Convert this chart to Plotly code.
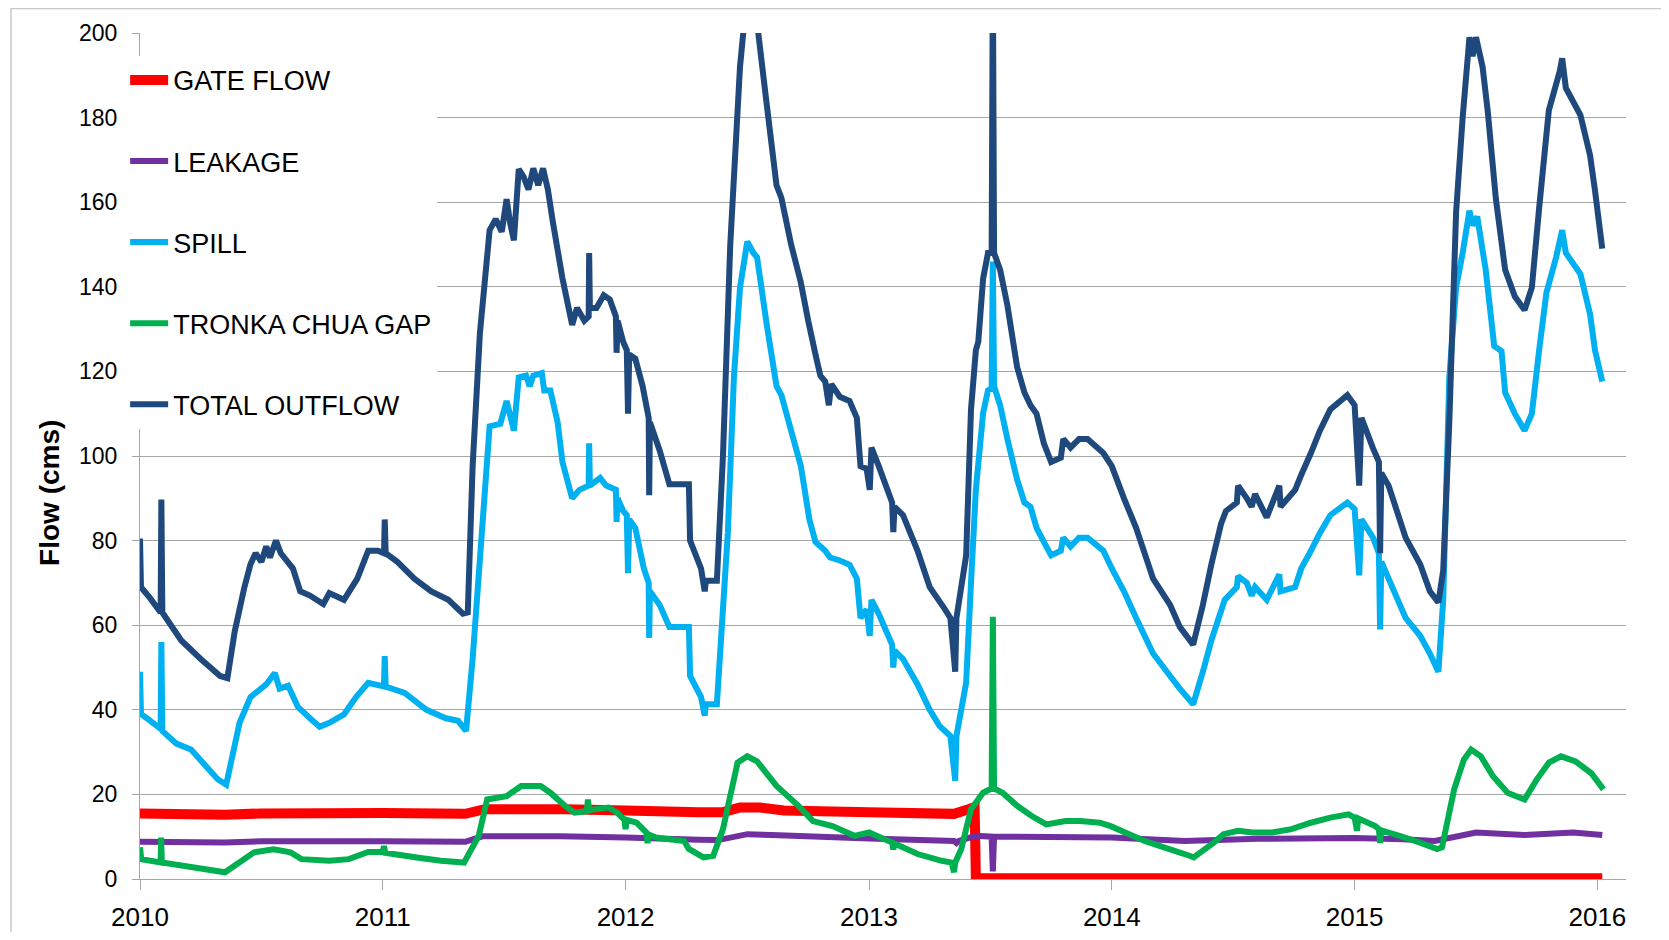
import datetime as dt
import plotly.graph_objects as go

# ---------------- data (decimal year, value in cms) ----------------
GATE_T = [2010.0, 2010.35, 2010.5, 2011.0, 2011.34, 2011.42, 2011.75, 2012.0, 2012.3, 2012.40,
          2012.47, 2012.55, 2012.65, 2013.0, 2013.35, 2013.41, 2013.435, 2013.44, 2016.02]
GATE_V = [15.5, 15.2, 15.5, 15.6, 15.4, 16.5, 16.5, 16.2, 15.8, 15.8,
          16.9, 16.9, 16.2, 15.8, 15.4, 16.5, 17.0, 0.2, 0.2]

LEAK_T = [2010.0, 2010.35, 2010.5, 2011.0, 2011.34, 2011.41, 2011.73, 2012.0, 2012.3, 2012.38,
          2012.5, 2012.6, 2013.0, 2013.35, 2013.36, 2013.37, 2013.44, 2013.505, 2013.51, 2013.515,
          2014.0, 2014.3, 2014.6, 2015.0, 2015.2, 2015.33, 2015.5, 2015.7, 2015.9, 2016.02]
LEAK_V = [8.8, 8.6, 8.9, 8.9, 8.8, 10.1, 10.1, 9.8, 9.3, 9.2,
          10.6, 10.4, 9.6, 9.0, 8.5, 9.0, 10.2, 10.0, 1.8, 10.0,
          9.8, 9.0, 9.5, 9.7, 9.4, 9.0, 11.0, 10.4, 11.0, 10.4]

SPILL_T = [2010.0, 2010.004, 2010.04, 2010.085, 2010.088, 2010.092, 2010.15, 2010.21, 2010.32, 2010.355,
           2010.41, 2010.455, 2010.52, 2010.555, 2010.575, 2010.61, 2010.65, 2010.70, 2010.74, 2010.78,
           2010.84, 2010.89, 2010.94, 2010.99, 2011.005, 2011.008, 2011.012, 2011.09, 2011.18, 2011.26,
           2011.31, 2011.343, 2011.37, 2011.405, 2011.44, 2011.484, 2011.51, 2011.54, 2011.56, 2011.59,
           2011.605, 2011.62, 2011.655, 2011.665, 2011.69, 2011.72, 2011.74, 2011.78, 2011.81, 2011.848,
           2011.85, 2011.853, 2011.895, 2011.92, 2011.96, 2011.963, 2011.967, 2011.99, 2012.005, 2012.01,
           2012.015, 2012.04, 2012.075, 2012.095, 2012.097, 2012.10, 2012.14, 2012.18, 2012.26, 2012.265,
           2012.31, 2012.325, 2012.33, 2012.375, 2012.42, 2012.445, 2012.47, 2012.50, 2012.525, 2012.54,
           2012.58, 2012.62, 2012.64, 2012.68, 2012.72, 2012.755, 2012.78, 2012.82, 2012.84, 2012.88,
           2012.92, 2012.95, 2012.965, 2012.99, 2013.003, 2013.01, 2013.04, 2013.095, 2013.10, 2013.105,
           2013.14, 2013.20, 2013.25, 2013.29, 2013.335, 2013.355, 2013.36, 2013.40, 2013.42, 2013.44,
           2013.47, 2013.49, 2013.505, 2013.51, 2013.515, 2013.54, 2013.57, 2013.61, 2013.64, 2013.665,
           2013.69, 2013.72, 2013.75, 2013.79, 2013.80, 2013.83, 2013.865, 2013.90, 2013.965, 2014.0,
           2014.05, 2014.10, 2014.17, 2014.24, 2014.28, 2014.335, 2014.375, 2014.41, 2014.465, 2014.515,
           2014.52, 2014.556, 2014.576, 2014.59, 2014.638, 2014.69, 2014.695, 2014.755, 2014.78, 2014.82,
           2014.857, 2014.90, 2014.97, 2015.0, 2015.019, 2015.028, 2015.076, 2015.10, 2015.105, 2015.11,
           2015.14, 2015.21, 2015.27, 2015.31, 2015.345, 2015.365, 2015.39, 2015.418, 2015.445, 2015.473,
           2015.486, 2015.505, 2015.54, 2015.575, 2015.605, 2015.62, 2015.66, 2015.70, 2015.73, 2015.76,
           2015.79, 2015.83, 2015.855, 2015.87, 2015.93, 2015.97, 2015.99, 2016.02]
SPILL_V = [49, 39, 37.5, 35.5, 56, 35, 32, 30.6, 23.6, 22.3,
           36.9, 43, 46, 48.7, 45, 45.7, 40.7, 38, 36, 36.9,
           38.9, 43, 46.4, 45.7, 45.5, 52.7, 45.5, 44, 40, 38,
           37.4, 35, 52, 79.5, 107, 107.6, 113, 106, 118.6, 119,
           116.5, 119, 119.6, 115.5, 115.5, 108, 98.6, 90, 92, 93,
           103, 93, 94.8, 93, 92, 84.4, 90, 87, 86, 72.3,
           85, 83, 73.4, 70, 57, 68, 64.8, 59.6, 59.6, 48,
           43, 38.6, 41.3, 41.3, 81.8, 118.6, 139.8, 150.7, 148, 147,
           131, 116.5, 114.4, 106, 97.6, 85, 79.7, 77.6, 76, 75.3,
           74.3, 71, 61.7, 63.7, 57.5, 66, 62.7, 55.4, 50, 54,
           52, 46, 40, 36.2, 33.8, 23.2, 33.8, 46.4, 70, 92,
           110.2, 115.5, 116, 146, 116.5, 112, 104, 94.4, 89, 88,
           83, 79.7, 76.5, 77.6, 80.7, 78.6, 80.7, 80.7, 77.6, 73.4,
           68, 61.7, 53.3, 48, 45, 41.3, 49, 56.4, 66, 69,
           71.6, 70, 67, 69, 66, 72, 68, 69, 73.4, 77.6,
           81.8, 86, 89, 87.5, 71.8, 85, 80.7, 77, 59, 75,
           71, 61.7, 57.5, 53.3, 49, 66, 118.6, 139.8, 148, 158,
           154.5, 156.6, 144, 126, 124.8, 115, 110, 106, 110, 125,
           138.6, 147, 153.4, 148, 143, 133.5, 125, 117.6]

TRONKA_T = [2010.0, 2010.005, 2010.085, 2010.087, 2010.09, 2010.35, 2010.47, 2010.55, 2010.62, 2010.665,
            2010.78, 2010.86, 2010.94, 2011.0, 2011.005, 2011.01, 2011.14, 2011.24, 2011.335, 2011.395,
            2011.43, 2011.51, 2011.53, 2011.57, 2011.65, 2011.69, 2011.75, 2011.79, 2011.84, 2011.845,
            2011.85, 2011.93, 2011.965, 2011.995, 2012.0, 2012.005, 2012.045, 2012.085, 2012.09, 2012.095,
            2012.125, 2012.24, 2012.26, 2012.32, 2012.36, 2012.40, 2012.46, 2012.50, 2012.54, 2012.62,
            2012.71, 2012.77, 2012.85, 2012.94, 2013.0, 2013.095, 2013.10, 2013.105, 2013.20, 2013.30,
            2013.34, 2013.35, 2013.355, 2013.38, 2013.42, 2013.47, 2013.505, 2013.51, 2013.515, 2013.55,
            2013.61, 2013.67, 2013.73, 2013.81, 2013.87, 2013.95, 2013.995, 2014.055, 2014.135, 2014.215,
            2014.32, 2014.337, 2014.42, 2014.46, 2014.52, 2014.58, 2014.66, 2014.74, 2014.82, 2014.90,
            2014.975, 2015.0, 2015.01, 2015.015, 2015.085, 2015.10, 2015.105, 2015.11, 2015.185, 2015.27,
            2015.34, 2015.36, 2015.41, 2015.45, 2015.48, 2015.52, 2015.57, 2015.63, 2015.70, 2015.75,
            2015.80, 2015.85, 2015.91, 2015.975, 2016.025]
TRONKA_V = [7.5, 4.7, 3.9, 9.8, 3.9, 1.6, 6.3, 7.0, 6.3, 4.7,
            4.3, 4.7, 6.4, 6.4, 7.8, 6.2, 5.1, 4.3, 3.9, 10.2,
            18.8, 19.6, 20.4, 22, 22, 20.4, 17.3, 15.7, 16, 18.8,
            16.3, 16.9, 15.7, 14, 11.8, 14, 13.3, 11, 8.5, 10.5,
            9.8, 9, 7.1, 5.1, 5.5, 11.8, 27.5, 29, 27.8, 22,
            17.3, 13.7, 12.5, 10.2, 11, 8.6, 7, 8.4, 5.9, 4.3,
            3.9, 1.6, 3.9, 7.1, 16.5, 20.4, 21.4, 62, 21.4, 20.4,
            17.3, 14.9, 12.9, 13.7, 13.7, 13.3, 12.5, 11, 9, 7.5,
            5.5, 5.1, 8.6, 10.6, 11.4, 11, 11, 11.8, 13.3, 14.5,
            15.3, 14.5, 11.4, 14.3, 12.5, 11.8, 8.5, 11.5, 10.2, 8.6,
            7.1, 7.5, 21.2, 28.2, 30.6, 29, 24.3, 20.4, 18.8, 23.5,
            27.5, 29, 27.8, 25, 21.2]

TOTAL_T = [2010.0, 2010.004, 2010.04, 2010.085, 2010.088, 2010.092, 2010.17, 2010.25, 2010.33, 2010.36,
           2010.39, 2010.43, 2010.455, 2010.476, 2010.50, 2010.52, 2010.535, 2010.56, 2010.58, 2010.63,
           2010.66, 2010.70, 2010.755, 2010.78, 2010.84, 2010.895, 2010.94, 2010.98, 2011.005, 2011.008,
           2011.012, 2011.06, 2011.13, 2011.20, 2011.27, 2011.33, 2011.35, 2011.37, 2011.40, 2011.44,
           2011.465, 2011.49, 2011.51, 2011.525, 2011.54, 2011.56, 2011.58, 2011.60, 2011.62, 2011.64,
           2011.66, 2011.68, 2011.70, 2011.74, 2011.78, 2011.80, 2011.83, 2011.848, 2011.85, 2011.853,
           2011.88, 2011.91, 2011.935, 2011.96, 2011.963, 2011.967, 2011.99, 2012.005, 2012.01, 2012.015,
           2012.04, 2012.07, 2012.095, 2012.097, 2012.10, 2012.14, 2012.18, 2012.26, 2012.265, 2012.31,
           2012.325, 2012.33, 2012.375, 2012.40, 2012.43, 2012.47, 2012.49, 2012.52, 2012.545, 2012.58,
           2012.62, 2012.64, 2012.68, 2012.72, 2012.75, 2012.78, 2012.80, 2012.82, 2012.835, 2012.845,
           2012.88, 2012.92, 2012.95, 2012.965, 2012.99, 2013.003, 2013.01, 2013.04, 2013.095, 2013.10,
           2013.105, 2013.14, 2013.20, 2013.25, 2013.31, 2013.335, 2013.355, 2013.36, 2013.40, 2013.42,
           2013.44, 2013.45, 2013.47, 2013.49, 2013.505, 2013.51, 2013.515, 2013.54, 2013.57, 2013.61,
           2013.64, 2013.665, 2013.69, 2013.72, 2013.75, 2013.79, 2013.80, 2013.83, 2013.865, 2013.90,
           2013.965, 2014.0, 2014.05, 2014.10, 2014.17, 2014.24, 2014.28, 2014.335, 2014.375, 2014.41,
           2014.45, 2014.47, 2014.515, 2014.52, 2014.556, 2014.576, 2014.59, 2014.638, 2014.69, 2014.695,
           2014.755, 2014.78, 2014.82, 2014.857, 2014.90, 2014.97, 2015.0, 2015.019, 2015.028, 2015.076,
           2015.10, 2015.105, 2015.11, 2015.14, 2015.21, 2015.27, 2015.31, 2015.345, 2015.365, 2015.39,
           2015.418, 2015.445, 2015.473, 2015.486, 2015.50, 2015.527, 2015.548, 2015.582, 2015.62, 2015.66,
           2015.70, 2015.73, 2015.76, 2015.80, 2015.845, 2015.855, 2015.87, 2015.93, 2015.97, 2015.99,
           2016.02]
TOTAL_V = [80.5, 69, 66.5, 63, 89.7, 63, 56.4, 52, 48, 47.5,
           58.5, 69, 74.4, 77, 75, 78.6, 76, 80, 77, 73.4,
           68, 67, 65, 67.6, 66, 71, 77.6, 77.6, 77, 85,
           77, 75, 71, 68, 66, 62.7, 63, 97.6, 129, 153.4,
           156, 153, 160.7, 155, 151, 167.8, 166, 163, 168, 164,
           168, 163, 155.5, 142, 131, 135, 132, 133, 148, 135,
           135, 138, 137, 133, 124.4, 132, 127, 125, 110, 124,
           123, 116.5, 109, 90.7, 108, 101.3, 93.3, 93.3, 80, 73.4,
           68, 70.5, 70.5, 100, 150, 192, 204, 206, 200, 183,
           164, 161, 150, 141, 132, 124, 119, 117.6, 112, 117,
           114, 113, 109, 97.6, 97, 92, 102, 97.6, 89, 82,
           88, 86, 77.6, 69, 64, 61.7, 49, 61.7, 76.5, 111,
           125, 127, 142, 148, 148, 215, 148, 144, 135.6, 121,
           115, 112, 110, 103, 98.6, 99.6, 104, 102, 104, 104,
           100.7, 97.6, 90, 83, 71, 64.8, 59.6, 55.4, 64.8, 74.4,
           84, 87, 89, 93, 90, 88, 91, 85.5, 93, 88,
           92, 95.5, 100.7, 106, 111, 114.4, 112, 93, 109, 101.8,
           98.6, 77, 96, 93, 80.7, 74.4, 68, 65.4, 73, 108,
           157.6, 180, 199, 194.5, 199, 192, 181.7, 160.7, 144, 137.7,
           134.5, 139.8, 158.6, 181.7, 191, 194, 187, 180.6, 171, 162.8,
           149]

SERIES = [
    ("GATE FLOW", GATE_T, GATE_V, "#FF0000", 10),
    ("LEAKAGE", LEAK_T, LEAK_V, "#7030A0", 6),
    ("SPILL", SPILL_T, SPILL_V, "#00B0F0", 6),
    ("TRONKA CHUA GAP", TRONKA_T, TRONKA_V, "#00B050", 6),
    ("TOTAL OUTFLOW", TOTAL_T, TOTAL_V, "#1F497D", 6),
]

YEAR_TICKS = ["2010", "2011", "2012", "2013", "2014", "2015", "2016"]


def to_date(y):
    year = int(y)
    start = dt.datetime(year, 1, 1)
    end = dt.datetime(year + 1, 1, 1)
    return (start + (end - start) * (y - year)).strftime("%Y-%m-%d %H:%M")


FONT = "Liberation Sans"

fig = go.Figure()
for name, ts, vs, color, width in SERIES:
    fig.add_trace(go.Scatter(
        x=[to_date(t) for t in ts], y=vs, mode="lines", name=name,
        legendgroup=name,
        line=dict(color=color, width=width, simplify=False),
    ))

GRID = "#A6A6A6"
fig.update_layout(
    width=1653, height=924,
    margin=dict(l=132, r=35, t=25, b=53, autoexpand=False),
    paper_bgcolor="white", plot_bgcolor="white",
    font=dict(family=FONT, color="black"),
    showlegend=True,
    legend=dict(
        x=-0.010, y=0.973, xanchor="left", yanchor="top",
        bgcolor="white", borderwidth=0,
        font=dict(family=FONT, size=27, color="black"),
        traceorder="grouped", tracegroupgap=43, itemwidth=38,
    ),
    xaxis=dict(
        type="date", automargin=False,
        range=["2010-01-01", "2016-02-13"],
        tickmode="array",
        tickvals=[y + "-01-01" for y in YEAR_TICKS],
        ticktext=YEAR_TICKS,
        showgrid=False, zeroline=False,
        showline=True, linecolor=GRID, linewidth=1,
        ticks="outside", ticklen=10, tickcolor=GRID,
        tickfont=dict(family=FONT, size=26, color="black"),
        ticklabelstandoff=5,
    ),
    yaxis=dict(
        automargin=False,
        range=[0, 200], dtick=20, tick0=0,
        showgrid=True, gridcolor=GRID, gridwidth=1,
        zeroline=False,
        showline=True, linecolor=GRID, linewidth=1,
        ticks="outside", ticklen=7, tickcolor=GRID,
        tickfont=dict(family=FONT, size=23, color="black"),
        ticklabelstandoff=10,
    ),
    annotations=[dict(
        text="Flow (cms)", textangle=-90, showarrow=False,
        xref="paper", yref="paper", x=-0.0606, y=0.4563,
        xanchor="center", yanchor="middle",
        font=dict(family=FONT, size=28, color="black", weight="bold"),
    )],
    shapes=[dict(type="rect", xref="paper", yref="paper",
                 x0=-0.0868, x1=1.2, y0=-0.3, y1=1.029,
                 line=dict(color="#C8C8C8", width=1.5), layer="below")],
)

fig.write_html("out.html")
